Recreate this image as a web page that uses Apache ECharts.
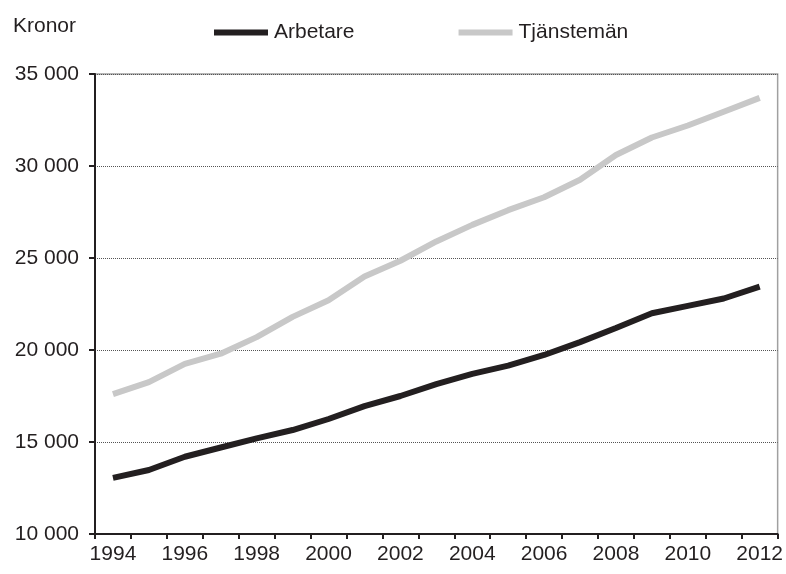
<!DOCTYPE html>
<html>
<head>
<meta charset="utf-8">
<script src="https://cdn.jsdelivr.net/npm/echarts@6/dist/echarts.min.js"></script>
<style>
  html, body { margin: 0; padding: 0; background: #fff; }
  #chart { width: 786px; height: 574px; }
</style>
</head>
<body>
<div id="chart"></div>
<script>
const years = ['1994', '1995', '1996', '1997', '1998', '1999', '2000', '2001', '2002', '2003',
  '2004', '2005', '2006', '2007', '2008', '2009', '2010', '2011', '2012'];
const arbetare = [13050, 13480, 14200, 14700, 15200, 15650, 16250, 16950, 17500, 18150,
  18700, 19150, 19730, 20430, 21200, 22000, 22400, 22800, 23440];
const tjansteman = [17600, 18250, 19250, 19800, 20700, 21800, 22700, 24000, 24850, 25900,
  26800, 27600, 28300, 29250, 30600, 31550, 32200, 32950, 33700];

const font = 'Liberation Sans, Arial, sans-serif';
const chart = echarts.init(document.getElementById('chart'));

chart.setOption({
  animation: false,
  textStyle: { fontFamily: font },
  title: {
    text: 'Kronor',
    left: 8,
    top: 11,
    textStyle: { fontSize: 21, fontWeight: 'normal', color: '#231f20', fontFamily: font }
  },
  legend: {
    left: 209,
    top: 17,
    icon: 'rect',
    itemWidth: 54,
    itemHeight: 6,
    itemGap: 104,
    textStyle: { fontSize: 21, color: '#231f20', fontFamily: font, padding: [0, 0, 0, 1] },
    data: ['Arbetare', 'Tjänstemän']
  },
  grid: {
    left: 95,
    right: 7,
    top: 74,
    bottom: 40,
    show: true,
    borderColor: '#a0a0a0',
    borderWidth: 1.5
  },
  xAxis: {
    type: 'category',
    data: years,
    boundaryGap: true,
    axisLine: { lineStyle: { color: '#231f20', width: 2 } },
    axisTick: { show: true, interval: 0, length: 5, lineStyle: { color: '#231f20', width: 2 } },
    axisLabel: { interval: 1, fontSize: 21, color: '#231f20', margin: 10, fontFamily: font }
  },
  yAxis: {
    type: 'value',
    min: 10000,
    max: 35000,
    interval: 5000,
    axisLine: { show: true, lineStyle: { color: '#231f20', width: 2 } },
    axisTick: { show: true, length: 6, lineStyle: { color: '#231f20', width: 2 } },
    axisLabel: {
      fontSize: 21,
      color: '#231f20',
      margin: 16,
      fontFamily: font,
      formatter: function (v) {
        return String(v).replace(/\B(?=(\d{3})+(?!\d))/g, ' ');
      }
    },
    splitLine: { show: true, lineStyle: { color: '#555', width: 1, type: [1, 1] } }
  },
  series: [
    {
      name: 'Arbetare',
      type: 'line',
      data: arbetare,
      symbol: 'none',
      lineStyle: { color: '#231f20', width: 6 },
      itemStyle: { color: '#231f20' }
    },
    {
      name: 'Tjänstemän',
      type: 'line',
      data: tjansteman,
      symbol: 'none',
      lineStyle: { color: '#c8c8c8', width: 6 },
      itemStyle: { color: '#c8c8c8' }
    }
  ]
});
</script>
</body>
</html>
